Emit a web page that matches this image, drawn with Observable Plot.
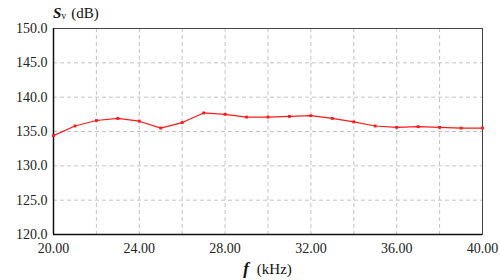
<!DOCTYPE html>
<html>
<head>
<meta charset="utf-8">
<script src="https://cdn.jsdelivr.net/npm/d3@7"></script>
<script src="https://cdn.jsdelivr.net/npm/@observablehq/plot@0.6"></script>
<style>
  html, body { margin: 0; padding: 0; background: #fff; }
</style>
</head>
<body>
<div id="chart"></div>
<script>
const freqs = [20,21,22,23,24,25,26,27,28,29,30,31,32,33,34,35,36,37,38,39,40];
const sv = [134.4,135.8,136.6,136.9,136.5,135.5,136.3,137.7,137.5,137.1,137.1,137.2,137.3,136.9,136.4,135.8,135.6,135.7,135.6,135.5,135.5];
const xTicks = [20,24,28,32,36,40];
const yTicks = [120,125,130,135,140,145,150];
const xGrid = [22,24,26,28,30,32,34,36,38];
const yGrid = [125,130,135,140,145];

const data = freqs.map((f, i) => ({f, v: sv[i]}));
const serif = "'Liberation Serif', 'Times New Roman', serif";

const chart = Plot.plot({
  width: 500,
  height: 280,
  marginLeft: 53,
  marginRight: 18,
  marginTop: 28,
  marginBottom: 46,
  style: {fontFamily: serif, fontSize: "14px", color: "#222", background: "#fff"},
  x: {domain: [20, 40], ticks: xTicks, tickFormat: d3.format(".2f"), tickSize: 0, tickPadding: 9, label: null},
  y: {domain: [120, 150], ticks: yTicks, tickFormat: d3.format(".1f"), tickSize: 0, tickPadding: 6, label: null},
  marks: [
    Plot.ruleX(xGrid, {stroke: "#c4c4c4", strokeDasharray: "4,3", strokeWidth: 1}),
    Plot.ruleY(yGrid, {stroke: "#c4c4c4", strokeDasharray: "4,3", strokeWidth: 1}),
    Plot.frame({stroke: "#444", strokeWidth: 1}),
    Plot.ruleX([20], {stroke: "#111", strokeWidth: 1.5}),
    Plot.ruleY([120], {stroke: "#111", strokeWidth: 1.5}),
    Plot.line(data, {x: "f", y: "v", stroke: "#ff1a1a", strokeWidth: 1.2}),
    Plot.dot(data, {x: "f", y: "v", symbol: "square", r: 1.6, fill: "#ff1a1a", stroke: "none"})
  ]
});

const svg = d3.select(chart);
const xs = chart.scale("x");
// y-axis title
const yt = svg.append("text")
  .attr("x", 53).attr("y", 18)
  .attr("text-anchor", "start")
  .attr("font-family", serif)
  .attr("font-size", 15).attr("fill", "#111");
yt.append("tspan").attr("font-weight", "bold").attr("font-style", "italic").text("S");
yt.append("tspan").attr("font-size", 10).attr("dy", 1).text("v");
yt.append("tspan").attr("dy", -1).attr("dx", 5).text("(dB)");
// x-axis title
const xt = svg.append("text")
  .attr("x", xs.apply(30)).attr("y", 274)
  .attr("text-anchor", "middle")
  .attr("font-family", serif)
  .attr("font-size", 15).attr("fill", "#111");
xt.append("tspan").attr("font-weight", "bold").attr("font-style", "italic").attr("font-size", 17).text("f");
xt.append("tspan").attr("dx", 8).text("(kHz)");

document.getElementById("chart").appendChild(chart);
</script>
</body>
</html>
